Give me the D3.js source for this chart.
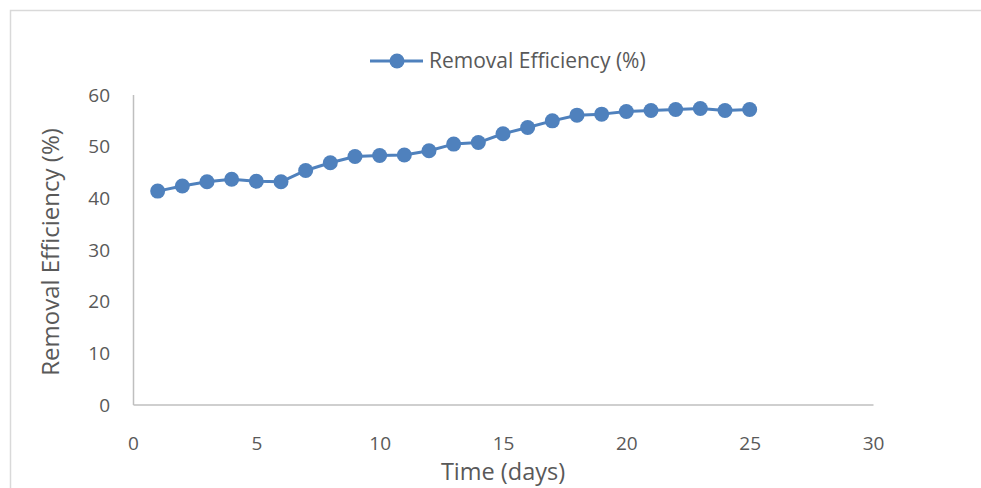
<!DOCTYPE html>
<html>
<head>
<meta charset="utf-8">
<script src="https://cdn.jsdelivr.net/npm/d3@7"></script>
<style>
  html, body { margin: 0; padding: 0; background: #fff; }
  svg { display: block; }
  text { font-family: "Open Sans", "Liberation Sans", sans-serif; fill: #595959; }
</style>
</head>
<body>
<svg id="chart" width="981" height="488"></svg>
<script>
const days = [1,2,3,4,5,6,7,8,9,10,11,12,13,14,15,16,17,18,19,20,21,22,23,24,25];
const removalEfficiency = [41.3,42.3,43.1,43.6,43.2,43.1,45.3,46.8,48.0,48.2,48.3,49.1,50.4,50.7,52.4,53.6,54.9,56.0,56.2,56.7,56.9,57.1,57.3,56.9,57.1];
const xTicks = [0,5,10,15,20,25,30];
const yTicks = [0,10,20,30,40,50,60];
const seriesName = "Removal Efficiency (%)";
const xTitle = "Time (days)";
const yTitle = "Removal Efficiency (%)";

const svg = d3.select("#chart");
const W = 981, H = 488;
const color = "#4f81bd";
const axisColor = "#bfbfbf";

// frame
svg.append("rect").attr("x", 10.5).attr("y", 10.5).attr("width", W + 20).attr("height", H + 20)
  .attr("fill", "none").attr("stroke", "#d9d9d9").attr("stroke-width", 1.5);

const m = { left: 133, right: 873, top: 94.5, bottom: 404.5 };
const x = d3.scaleLinear().domain([0, 30]).range([m.left, m.right]);
const y = d3.scaleLinear().domain([0, 60]).range([m.bottom, m.top]);

// axes
const xAxis = svg.append("g").attr("transform", `translate(0,${m.bottom})`)
  .call(d3.axisBottom(x).tickValues(xTicks).tickSize(0).tickPadding(0));
xAxis.select(".domain").attr("stroke", axisColor).attr("stroke-width", 1.5);
xAxis.selectAll("text").attr("font-size", 19).attr("dy", null).attr("y", 45).attr("fill", "#595959");

const yAxis = svg.append("g").attr("transform", `translate(${m.left},0)`)
  .call(d3.axisLeft(y).tickValues(yTicks).tickSize(0).tickPadding(0));
yAxis.select(".domain").attr("stroke", axisColor).attr("stroke-width", 1.5);
yAxis.selectAll("text").attr("font-size", 19).attr("x", -23).attr("dy", "0.35em").attr("fill", "#595959");

// titles
svg.append("text").attr("x", (m.left + m.right) / 2).attr("y", 480)
  .attr("text-anchor", "middle").attr("font-size", 23.5).text(xTitle);
svg.append("text").attr("transform", `translate(59,252) rotate(-90)`)
  .attr("text-anchor", "middle").attr("font-size", 24).text(yTitle);

// line
const line = d3.line().x((d, i) => x(days[i])).y(d => y(d));
svg.append("path").datum(removalEfficiency).attr("d", line)
  .attr("fill", "none").attr("stroke", color).attr("stroke-width", 3).attr("stroke-linejoin", "round");
svg.selectAll("circle.pt").data(removalEfficiency).enter().append("circle")
  .attr("class", "pt").attr("cx", (d, i) => x(days[i])).attr("cy", d => y(d)).attr("r", 7.5)
  .attr("fill", color);

// legend
const lg = svg.append("g").attr("transform", "translate(370,61)");
lg.append("line").attr("x1", 0).attr("x2", 53).attr("y1", 0).attr("y2", 0)
  .attr("stroke", color).attr("stroke-width", 3);
lg.append("circle").attr("cx", 27).attr("cy", 0).attr("r", 7.5).attr("fill", color);
lg.append("text").attr("x", 59).attr("y", 0).attr("dy", "0.35em").attr("font-size", 21).text(seriesName);
</script>
</body>
</html>
